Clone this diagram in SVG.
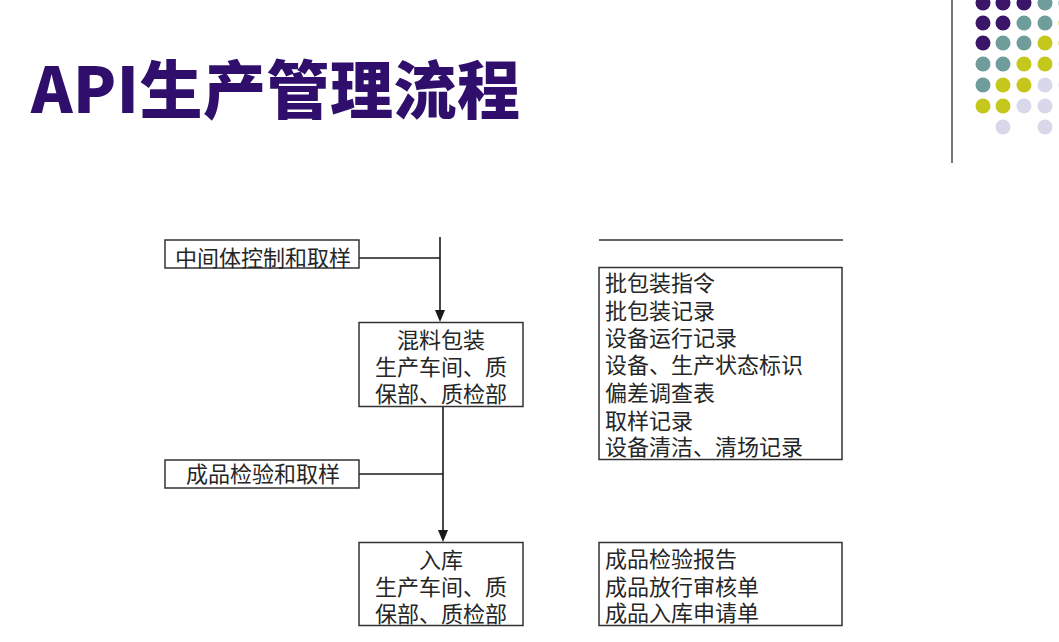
<svg xmlns="http://www.w3.org/2000/svg" width="1059" height="642" viewBox="0 0 1059 642">
<style>
.box{fill:#fff;stroke:#333;stroke-width:1.5}
.t{font-family:"Liberation Sans","Noto Sans CJK SC",sans-serif;font-size:22px;fill:#262626}
.c{text-anchor:middle}
.ln{fill:none;stroke:#1a1a1a;stroke-width:1.6}
.ah{fill:#1a1a1a}
.p{fill:#3b1668}.g{fill:#6e9d9c}.y{fill:#c6c71c}.l{fill:#d9d8ea}
</style>
<rect width="1059" height="642" fill="#fff"/>
<g id="decor">
<line x1="952" y1="0" x2="952" y2="163" stroke="#777" stroke-width="2"/>
<circle class="p" cx="983" cy="3" r="7.5"/><circle class="p" cx="1003" cy="3" r="7.5"/><circle class="p" cx="1024" cy="3" r="7.5"/><circle class="g" cx="1045" cy="3" r="7.5"/><circle class="g" cx="1066" cy="3" r="7.5"/>
<circle class="p" cx="983" cy="23" r="7.5"/><circle class="p" cx="1003" cy="23" r="7.5"/><circle class="g" cx="1024" cy="23" r="7.5"/><circle class="g" cx="1045" cy="23" r="7.5"/><circle class="y" cx="1066" cy="23" r="7.5"/>
<circle class="p" cx="983" cy="43" r="7.5"/><circle class="g" cx="1003" cy="43" r="7.5"/><circle class="g" cx="1024" cy="43" r="7.5"/><circle class="y" cx="1045" cy="43" r="7.5"/><circle class="y" cx="1066" cy="43" r="7.5"/>
<circle class="g" cx="983" cy="64" r="7.5"/><circle class="g" cx="1003" cy="64" r="7.5"/><circle class="y" cx="1024" cy="64" r="7.5"/><circle class="y" cx="1045" cy="64" r="7.5"/><circle class="l" cx="1066" cy="64" r="7.5"/>
<circle class="g" cx="983" cy="85" r="7.5"/><circle class="y" cx="1003" cy="85" r="7.5"/><circle class="y" cx="1024" cy="85" r="7.5"/><circle class="l" cx="1045" cy="85" r="7.5"/><circle class="l" cx="1066" cy="85" r="7.5"/>
<circle class="y" cx="983" cy="106" r="7.5"/><circle class="y" cx="1003" cy="106" r="7.5"/><circle class="l" cx="1024" cy="106" r="7.5"/><circle class="l" cx="1045" cy="106" r="7.5"/>
<circle class="l" cx="1003" cy="127" r="7.5"/><circle class="l" cx="1045" cy="127" r="7.5"/>
</g>
<g id="title">
<text x="31" y="113" font-family="'Noto Sans CJK SC','Noto Sans',sans-serif" font-size="63" font-weight="900" letter-spacing="0.5" fill="#2f0f6b">API生产管理流程</text>
</g>
<g id="connectors">
<line class="ln" x1="440" y1="237" x2="440" y2="312"/>
<polygon class="ah" points="435,310 445,310 440,322"/>
<line class="ln" x1="359" y1="258" x2="440" y2="258"/>
<line class="ln" x1="443" y1="406" x2="443" y2="532"/>
<polygon class="ah" points="438,530 448,530 443,542"/>
<line class="ln" x1="359" y1="474" x2="443" y2="474"/>
<line x1="599" y1="240" x2="843" y2="240" stroke="#333" stroke-width="1.5"/>
</g>
<g id="n_intermediate">
<rect class="box" x="165" y="240" width="194" height="28"/>
<text class="t c" x="263" y="266">中间体控制和取样</text>
</g>
<g id="n_mixpack">
<rect class="box" x="359" y="322.5" width="164" height="84"/>
<text class="t c"><tspan x="441" y="348">混料包装</tspan><tspan x="441" y="375">生产车间、质</tspan><tspan x="441" y="402">保部、质检部</tspan></text>
</g>
<g id="n_finaltest">
<rect class="box" x="165" y="460" width="194" height="28"/>
<text class="t c" x="263" y="482">成品检验和取样</text>
</g>
<g id="n_storage">
<rect class="box" x="359" y="542.5" width="164" height="83"/>
<text class="t c"><tspan x="441" y="568">入库</tspan><tspan x="441" y="595">生产车间、质</tspan><tspan x="441" y="622">保部、质检部</tspan></text>
</g>
<g id="n_records1">
<rect class="box" x="599" y="267.5" width="243" height="192"/>
<text class="t"><tspan x="605" y="291">批包装指令</tspan><tspan x="605" y="319">批包装记录</tspan><tspan x="605" y="346">设备运行记录</tspan><tspan x="605" y="373">设备、生产状态标识</tspan><tspan x="605" y="401">偏差调查表</tspan><tspan x="605" y="429">取样记录</tspan><tspan x="605" y="455">设备清洁、清场记录</tspan></text>
</g>
<g id="n_records2">
<rect class="box" x="599" y="542.5" width="243" height="83"/>
<text class="t"><tspan x="605" y="567">成品检验报告</tspan><tspan x="605" y="595">成品放行审核单</tspan><tspan x="605" y="621">成品入库申请单</tspan></text>
</g>
</svg>
